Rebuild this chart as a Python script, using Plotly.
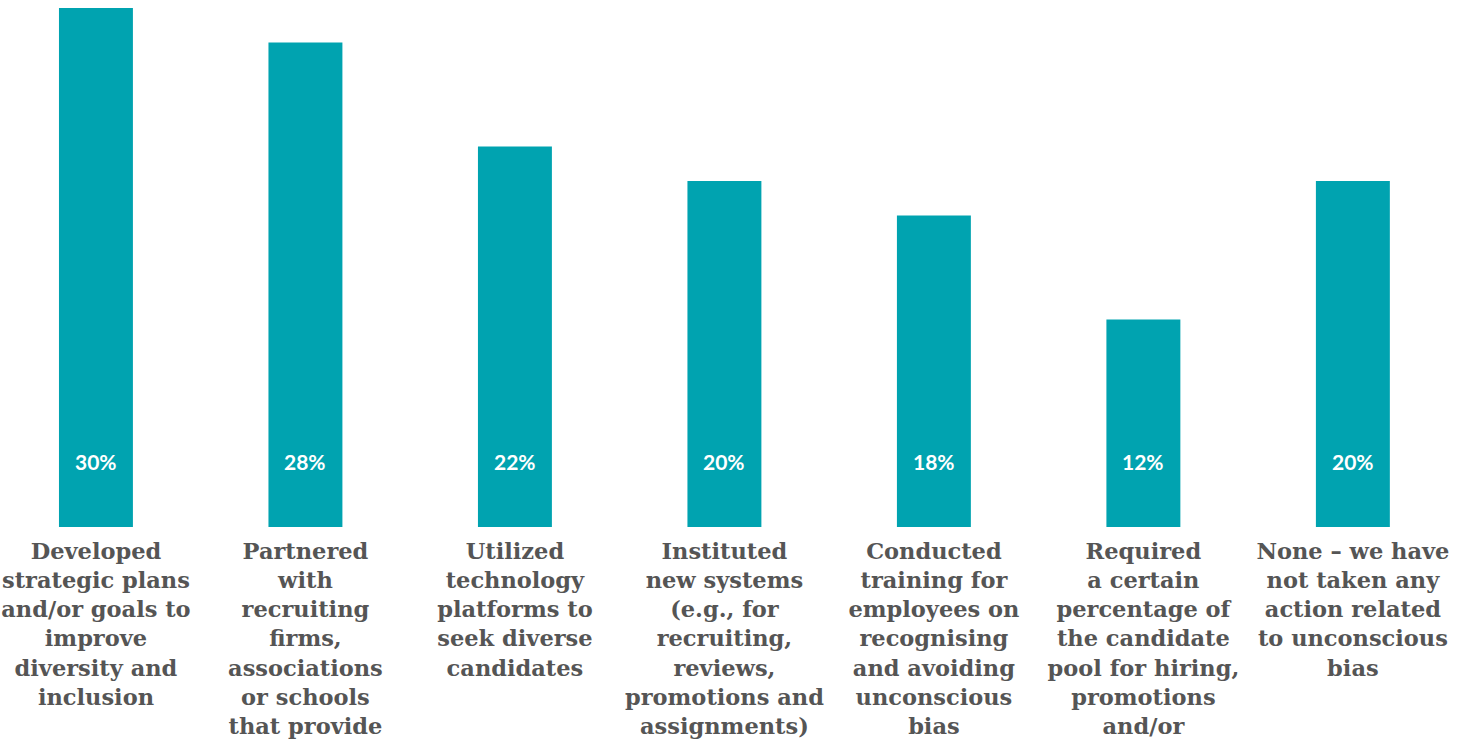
import plotly.graph_objects as go

# Share of respondents by action taken on unconscious bias
categories = [
    "Developed<br>strategic plans<br>and/or goals to<br>improve<br>diversity and<br>inclusion",
    "Partnered<br>with<br>recruiting<br>firms,<br>associations<br>or schools<br>that provide",
    "Utilized<br>technology<br>platforms to<br>seek diverse<br>candidates",
    "Instituted<br>new systems<br>(e.g., for<br>recruiting,<br>reviews,<br>promotions and<br>assignments)",
    "Conducted<br>training for<br>employees on<br>recognising<br>and avoiding<br>unconscious<br>bias",
    "Required<br>a certain<br>percentage of<br>the candidate<br>pool for hiring,<br>promotions<br>and/or",
    "None – we have<br>not taken any<br>action related<br>to unconscious<br>bias",
]
values = [30, 28, 22, 20, 18, 12, 20]
value_labels = [f"{v}%" for v in values]

BAR_COLOR = "#00A3B0"
TEXT_COLOR = "#555555"

fig = go.Figure(
    go.Bar(
        x=categories,
        y=values,
        marker=dict(color=BAR_COLOR, line=dict(width=0)),
        width=0.353,
        hoverinfo="skip",
    )
)

# White percentage labels near the foot of each bar
for cat, lab in zip(categories, value_labels):
    fig.add_annotation(
        x=cat, y=0, xref="x", yref="y",
        text=lab, showarrow=False,
        yanchor="middle", yshift=66,
        font=dict(family="Lato", size=21, color="white", weight="bold"),
    )

fig.update_layout(
    width=1466,
    height=740,
    margin=dict(l=0, r=0, t=8, b=213),
    plot_bgcolor="white",
    paper_bgcolor="white",
    showlegend=False,
    xaxis=dict(
        range=[-0.458, 6.54],
        showgrid=False,
        zeroline=False,
        showline=False,
        ticks="",
        automargin=False,
        ticklabelstandoff=8,
        tickfont=dict(family="DejaVu Serif", size=22.5, color=TEXT_COLOR, weight="bold"),
    ),
    yaxis=dict(
        range=[0, 30],
        visible=False,
        showgrid=False,
        zeroline=False,
    ),
)

fig.write_html("out.html")
